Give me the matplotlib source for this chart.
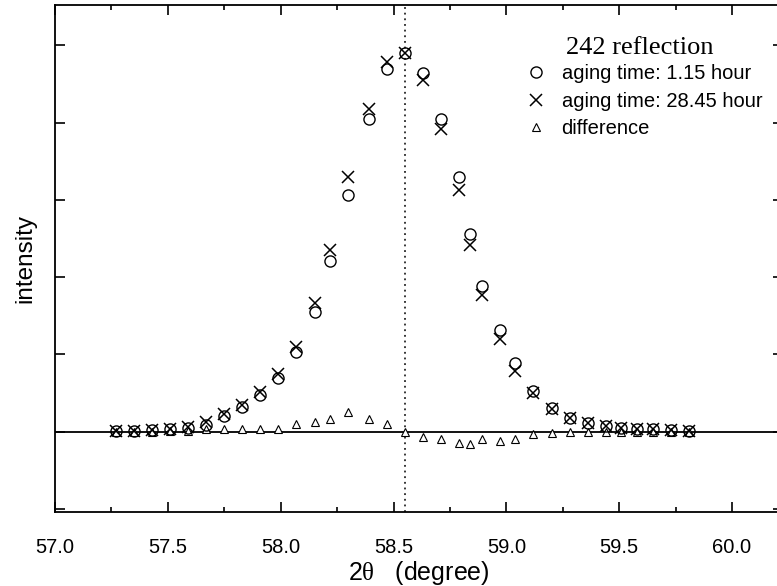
"""242 reflection profile: two aging times and their difference."""

import matplotlib
matplotlib.use("Agg")
import matplotlib.pyplot as plt
from matplotlib.ticker import MultipleLocator, NullFormatter

# 2-theta positions (degree)
two_theta = [57.27, 57.35, 57.43, 57.51, 57.59, 57.67, 57.75, 57.83, 57.91,
             57.99, 58.07, 58.15, 58.22, 58.30, 58.39, 58.47, 58.55, 58.63,
             58.71, 58.79, 58.84, 58.89, 58.97, 59.04, 59.12, 59.20, 59.28,
             59.36, 59.44, 59.51, 59.58, 59.65, 59.73, 59.81]

# aging time 1.15 hour (arb. units)
aging_1 = [0.01, 0.01, 0.02, 0.03, 0.05, 0.09, 0.20, 0.32, 0.47,
           0.70, 1.03, 1.55, 2.21, 3.06, 4.04, 4.69, 4.90, 4.64,
           4.04, 3.29, 2.56, 1.88, 1.31, 0.89, 0.53, 0.31, 0.18,
           0.11, 0.07, 0.05, 0.03, 0.03, 0.02, 0.01]

# aging time 28.45 hour
aging_2 = [0.01, 0.01, 0.02, 0.03, 0.06, 0.12, 0.23, 0.35, 0.51,
           0.74, 1.10, 1.66, 2.35, 3.30, 4.18, 4.79, 4.90, 4.55,
           3.92, 3.13, 2.41, 1.77, 1.20, 0.78, 0.50, 0.29, 0.17,
           0.11, 0.07, 0.05, 0.03, 0.03, 0.02, 0.01]

# difference (28.45 h - 1.15 h)
difference = [0.00, 0.00, 0.00, 0.01, 0.01, 0.03, 0.03, 0.03, 0.04,
              0.04, 0.10, 0.12, 0.16, 0.25, 0.16, 0.10, 0.00, -0.07,
              -0.10, -0.15, -0.16, -0.10, -0.12, -0.09, -0.03, -0.02, 0.00,
              0.00, 0.00, 0.00, 0.00, 0.00, 0.00, 0.00]

peak_position = 58.55

plt.rcParams["font.family"] = ["Liberation Sans", "DejaVu Sans"]
plt.rcParams["mathtext.fontset"] = "custom"
plt.rcParams["mathtext.rm"] = "Liberation Serif"

fig = plt.figure(figsize=(7.77, 5.86), dpi=100)
ax = fig.add_axes([0.0708, 0.1263, 0.937, 0.865])

ax.axhline(0, color="black", lw=1.3, zorder=1)
ax.axvline(peak_position, color="black", lw=1.1, ls=(0, (1.2, 2.5)), zorder=1)

ax.plot(two_theta, aging_1, ls="none", marker="o", ms=8, mfc="none",
        mec="black", mew=1.0, label="aging time: 1.15 hour", zorder=3)
ax.plot(two_theta, aging_2, ls="none", marker="x", ms=9, mec="black",
        mew=1.1, label="aging time: 28.45 hour", zorder=3)
ax.plot(two_theta, difference, ls="none", marker="^", ms=5.5, mfc="white",
        mec="black", mew=0.8, label="difference", zorder=2)

ax.set_xlim(57.0, 60.226)
ax.set_ylim(-1.04, 5.52)

ax.xaxis.set_major_locator(MultipleLocator(0.5))
ax.xaxis.set_minor_locator(MultipleLocator(0.25))
ax.xaxis.set_major_formatter(plt.FormatStrFormatter("%.1f"))
ax.yaxis.set_major_locator(MultipleLocator(1.0))
ax.yaxis.set_major_formatter(NullFormatter())
ax.tick_params(which="both", direction="in", top=True, right=True, width=1.2)
ax.tick_params(axis="x", which="major", length=7, labelsize=14.5, pad=19)
ax.tick_params(axis="x", which="minor", length=3.5)
ax.tick_params(axis="y", which="major", length=7)
for side in ax.spines.values():
    side.set_linewidth(1.3)

ax.set_xlabel(r"2$\mathrm{\theta}$   (degree)", fontsize=18, labelpad=1)
ax.set_ylabel("intensity", fontsize=17.5, labelpad=10)

ax.text(0.702, 0.915, "242 reflection", transform=ax.transAxes,
        family="Liberation Serif", fontsize=19, va="center", ha="left")
ax.legend(loc="upper left", bbox_to_anchor=(0.646, 0.883), frameon=False,
          fontsize=14.5, handlelength=1.1, handletextpad=0.7, labelspacing=0.42,
          borderaxespad=0, borderpad=0)

fig.savefig("out.png", dpi=100)
